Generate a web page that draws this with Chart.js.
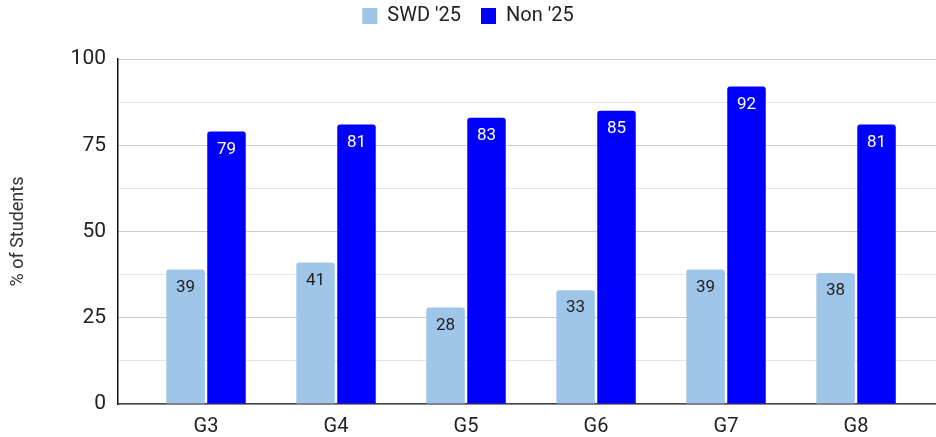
<!DOCTYPE html>
<html lang="en">
<head>
    <meta charset="UTF-8">
    <title>% of Students by Grade</title>
    <script src="https://cdn.jsdelivr.net/npm/chart.js"></script>
    <style>
        body {
            margin: 0;
            background: #fff;
            font-family: Roboto, Arial, sans-serif;
        }
        #wrap {
            position: relative;
            width: 936px;
            height: 437px;
        }
    </style>
</head>
<body>
    <div id="wrap"><canvas id="myChart"></canvas></div>

    <script>
        // grades and results per group
        const grades = ['G3', 'G4', 'G5', 'G6', 'G7', 'G8'];
        const swd25 = [39, 41, 28, 33, 39, 38];
        const non25 = [79, 81, 83, 85, 92, 81];
        const yTicks = [0, 25, 50, 75, 100];

        const toPoints = vals => vals.map((v, i) => ({ x: i, y: v }));

        // writes each value inside the top of its bar
        const barValues = {
            id: 'barValues',
            afterDatasetsDraw(chart) {
                const ctx = chart.ctx;
                ctx.save();
                ctx.font = '17px Roboto, Arial, sans-serif';
                ctx.textAlign = 'center';
                ctx.textBaseline = 'middle';
                chart.data.datasets.forEach((ds, di) => {
                    const meta = chart.getDatasetMeta(di);
                    ctx.fillStyle = ds.labelColor;
                    meta.data.forEach((bar, i) => {
                        ctx.fillText(ds.data[i].y, bar.x, bar.y + 18);
                    });
                });
                ctx.restore();
            }
        };

        // leaves some room between the legend and the plot
        const legendGap = {
            id: 'legendGap',
            beforeInit(chart) {
                const fit = chart.legend.fit;
                chart.legend.fit = function () {
                    fit.call(this);
                    this.height += 23;
                };
            }
        };

        const ctx = document.getElementById('myChart').getContext('2d');
        const myChart = new Chart(ctx, {
            type: 'bar',
            data: {
                datasets: [{
                    label: "SWD '25",
                    data: toPoints(swd25),
                    backgroundColor: '#9fc5e8',
                    labelColor: '#222',
                    borderRadius: { topLeft: 3, topRight: 3 },
                    borderSkipped: 'start'
                }, {
                    label: "Non '25",
                    data: toPoints(non25),
                    backgroundColor: '#0000ff',
                    labelColor: '#fff',
                    borderRadius: { topLeft: 3, topRight: 3 },
                    borderSkipped: 'start'
                }]
            },
            plugins: [barValues, legendGap],
            options: {
                responsive: true,
                maintainAspectRatio: false,
                animation: false,
                categoryPercentage: 0.63,
                barPercentage: 0.94,
                layout: { padding: { top: -14, right: 0, bottom: -13, left: 0 } },
                plugins: {
                    tooltip: { enabled: false },
                    legend: {
                        position: 'top',
                        labels: {
                            boxWidth: 15,
                            boxHeight: 16,
                            padding: 20,
                            color: '#222',
                            font: { family: 'Roboto', size: 20 }
                        }
                    }
                },
                scales: {
                    x: {
                        type: 'linear',
                        offset: false,
                        min: -0.677,
                        max: 5.615,
                        grid: { display: false, drawTicks: false },
                        border: { display: true, color: '#444', width: 1.5 },
                        ticks: {
                            stepSize: 1,
                            includeBounds: false,
                            autoSkip: false,
                            maxRotation: 0,
                            padding: 11,
                            color: '#222',
                            font: { family: 'Roboto', size: 20 },
                            callback: v => grades[v] ?? ''
                        }
                    },
                    y: {
                        min: 0,
                        max: 100,
                        afterFit: scale => { scale.width = 118; },
                        border: { display: true, color: '#111', width: 1.5 },
                        grid: {
                            drawTicks: false,
                            color: c => yTicks.includes(c.tick.value) ? '#cccccc' : '#e5e5e5'
                        },
                        ticks: {
                            stepSize: 12.5,
                            autoSkip: false,
                            padding: 12,
                            color: '#222',
                            font: { family: 'Roboto', size: 21 },
                            callback: v => yTicks.includes(v) ? v : ''
                        },
                        title: {
                            display: true,
                            text: '% of Students',
                            color: '#333',
                            font: { family: 'Roboto', size: 18 },
                            padding: { top: 8, bottom: 0 }
                        }
                    }
                }
            }
        });
    </script>
</body>
</html>
